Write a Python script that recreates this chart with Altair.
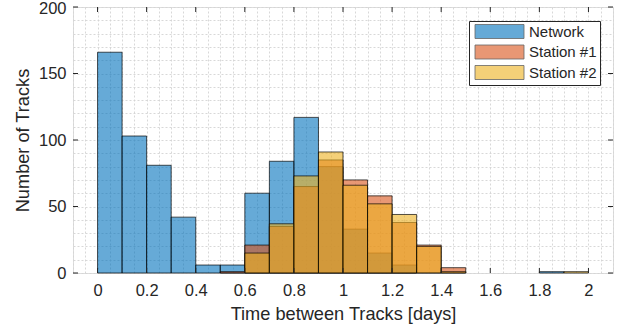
import altair as alt
import pandas as pd
import numpy as np

# Histogram bins (width 0.1 day)
bin_starts = [0.0, 0.1, 0.2, 0.3, 0.4, 0.5, 0.6, 0.7, 0.8, 0.9,
              1.0, 1.1, 1.2, 1.3, 1.4, 1.5, 1.6, 1.7, 1.8, 1.9]
bin_width = 0.1

series_names = ["Network", "Station #1", "Station #2"]
network = [166, 103, 81, 42, 6, 6, 60, 84, 117, 80, 33, 15, 6, 0, 0, 0, 0, 0, 1, 0]
station1 = [0, 0, 0, 0, 0, 1, 21, 35, 65, 85, 70, 58, 38, 21, 4, 0, 0, 0, 0, 0]
station2 = [0, 0, 0, 0, 0, 0, 15, 37, 73, 91, 66, 52, 44, 20, 1, 0, 0, 0, 0, 1]

x_tick_values = [0, 0.2, 0.4, 0.6, 0.8, 1.0, 1.2, 1.4, 1.6, 1.8, 2.0]
y_tick_values = [0, 50, 100, 150, 200]

colors = ["#0072BD", "#D95319", "#EDB120"]

rows = []
for name, vals in zip(series_names, [network, station1, station2]):
    for s, v in zip(bin_starts, vals):
        if v > 0:
            rows.append({"series": name, "start": s, "end": round(s + bin_width, 2), "count": v})
df = pd.DataFrame(rows)

W, H = 540, 266
FONT = "Liberation Sans"
TXT = "#262626"
LBL = 16.5
TTL = 18.2

x_minor = [round(float(v), 2) for v in np.arange(-0.1, 2.1001, 0.05)]
y_minor = list(range(0, 201, 10))

xscale = alt.Scale(domain=[-0.1, 2.1], nice=False, zero=False)
yscale = alt.Scale(domain=[0, 200], nice=False)

label_expr_x = ("abs(datum.value*5 - round(datum.value*5)) < 0.001 && datum.value > -0.01 && datum.value < 2.01"
                " ? format(datum.value, '~g') : ''")
label_expr_y = "datum.value % 50 == 0 ? format(datum.value, 'd') : ''"

bars = alt.Chart(df).mark_bar(
    fillOpacity=0.6, stroke="black", strokeWidth=0.8, strokeOpacity=0.85
).encode(
    x=alt.X("start:Q", scale=xscale,
            axis=alt.Axis(values=x_minor, tickCount=len(x_minor), labelExpr=label_expr_x,
                          ticks=False, domain=False,
                          grid=True, gridColor="#d4d4d4", gridDash=[2, 2], gridWidth=0.9,
                          labelOverlap=False, labelFlush=False, labelBound=False,
                          labelPadding=9, labelFontSize=LBL, labelColor=TXT, labelFont=FONT,
                          title="Time between Tracks [days]", titleFont=FONT, titleFontSize=TTL,
                          titleFontWeight="normal", titleColor=TXT, titlePadding=7)),
    x2="end:Q",
    y=alt.Y("count:Q", scale=yscale, stack=None,
            axis=alt.Axis(values=y_minor, tickCount=len(y_minor), labelExpr=label_expr_y,
                          labelOffset={"condition": {"test": "datum.value >= 200", "value": 1.5}, "value": 0},
                          ticks=False, domain=False,
                          grid=True, gridColor="#d4d4d4", gridDash=[2, 2], gridWidth=0.9,
                          labelOverlap=False, labelFlush=False, labelBound=False,
                          labelPadding=7, labelFontSize=LBL, labelColor=TXT,
                          labelFont=FONT, title="Number of Tracks", titleFont=FONT,
                          titleFontSize=TTL, titleFontWeight="normal", titleColor=TXT,
                          titlePadding=6)),
    y2=alt.datum(0),
    color=alt.Color("series:N", scale=alt.Scale(domain=series_names, range=colors),
                    sort=series_names,
                    legend=alt.Legend(title=None, orient="none", legendX=396, legendY=14,
                                      fillColor="white", strokeColor="#262626", padding=3,
                                      symbolType="M-3.5,-1L3.5,-1L3.5,1L-3.5,1Z",
                                      symbolSize=196, symbolOffset=20, labelOffset=22,
                                      symbolOpacity=0.6,
                                      symbolStrokeColor="#000000", symbolStrokeWidth=0.8,
                                      rowPadding=1.5, labelFontSize=15, labelFont=FONT,
                                      labelColor=TXT, labelLimit=200)),
    order=alt.Order("series:N"),
)

xt = pd.DataFrame({"v": x_tick_values})
yt = pd.DataFrame({"v": y_tick_values})
TL = 5
tick_style = dict(color="#262626", strokeWidth=1)

xb = alt.Chart(xt).mark_rule(**tick_style).encode(x=alt.X("v:Q", scale=xscale), y=alt.value(H), y2=alt.value(H - TL))
xtop = alt.Chart(xt).mark_rule(**tick_style).encode(x=alt.X("v:Q", scale=xscale), y=alt.value(0), y2=alt.value(TL))
yl = alt.Chart(yt).mark_rule(**tick_style).encode(y=alt.Y("v:Q", scale=yscale), x=alt.value(0), x2=alt.value(TL))
yr = alt.Chart(yt).mark_rule(**tick_style).encode(y=alt.Y("v:Q", scale=yscale), x=alt.value(W), x2=alt.value(W - TL))

chart = alt.layer(bars, xb, xtop, yl, yr).properties(
    width=W, height=H,
    autosize=alt.AutoSizeParams(type="none"),
    padding={"left": 73, "top": 7, "right": 15, "bottom": 60},
).configure_view(stroke="#262626", strokeWidth=1).configure(background="white")

chart.save("out.html", embed_options={"renderer": "svg", "actions": False})
